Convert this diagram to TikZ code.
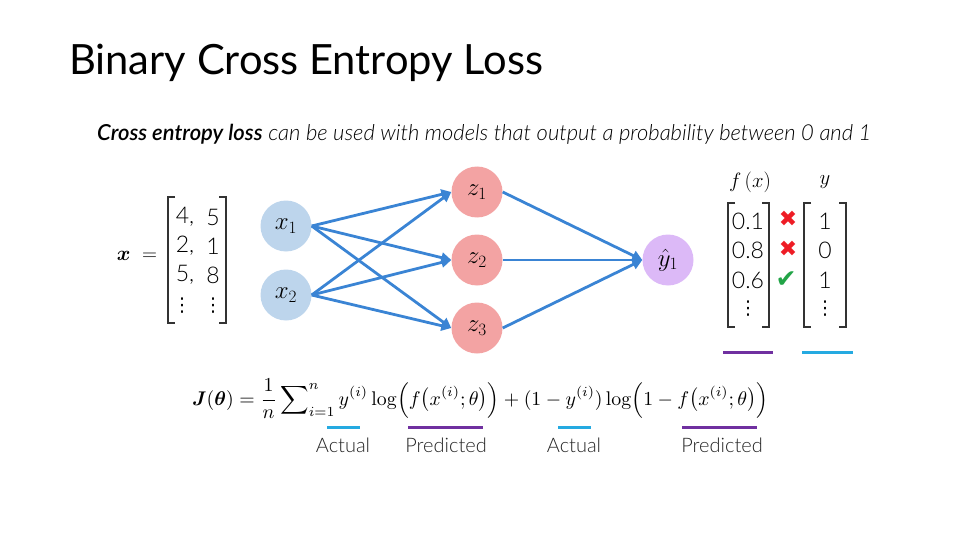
\documentclass[tikz,border=0pt]{standalone}
\usepackage[no-math]{fontspec}
\usepackage{amsmath}
\usepackage{bm}
\usetikzlibrary{arrows.meta}
\setmainfont{Lato}
\IfFontExistsTF{Lato Light}{\newfontfamily\lightfont{Lato Light}}{\newfontfamily\lightfont{Lato}}
\IfFontExistsTF{Lato Semibold}{\newfontfamily\semifont{Lato Semibold}}{\newcommand\semifont{\bfseries}}
\newfontfamily\symfont{DejaVu Sans}
\definecolor{inblue}{HTML}{BDD5EC}
\definecolor{hidred}{HTML}{F3A3A3}
\definecolor{outpurp}{HTML}{DCB9F7}
\definecolor{arrblue}{HTML}{3A84D4}
\definecolor{lineblue}{HTML}{25AAE1}
\definecolor{linepurp}{HTML}{7030A0}
\definecolor{xred}{HTML}{EE1C25}
\definecolor{okgreen}{HTML}{22A447}
\tikzset{
  neuron/.style={circle, minimum size=51pt, inner sep=0pt, font=\fontsize{25}{30}\selectfont},
  inneuron/.style={neuron, fill=inblue},
  hidneuron/.style={neuron, fill=hidred},
  outneuron/.style={neuron, fill=outpurp},
  conn/.style={draw=arrblue, line width=2.8pt, -{Triangle[length=10pt,width=10pt]}},
  num/.style={inner sep=0pt, font=\lightfont\fontsize{23}{26}\selectfont},
  vdot/.style={inner sep=0pt, font=\symfont\fontsize{19}{20}\selectfont},
  bracket/.style={draw=black!80, line width=1.1pt},
  uline/.style={line width=3pt},
  lbl/.style={inner sep=0pt, anchor=base, font=\lightfont\fontsize{20}{24}\selectfont, text=black!85},
  symmark/.style={inner sep=0pt, font=\symfont\fontsize{22}{24}\selectfont}
}
\begin{document}
\begin{tikzpicture}[x=1pt,y=-1pt]
\useasboundingbox (0,0) rectangle (960,540);
% title
\node[inner sep=0pt, anchor=base west] (title) at (69,75)
  {\resizebox{474pt}{!}{Binary Cross Entropy Loss}};
\node[inner sep=0pt, anchor=base west] (sub) at (97,141)
  {\resizebox{774pt}{!}{{\semifont\itshape Cross entropy loss} {\lightfont\itshape can be used with models that output a probability between 0 and 1}}};
% input matrix
\node[inner sep=0pt, font=\fontsize{21}{24}\selectfont] (xeq) at (137,256) {$\bm{x}\;=$};
\draw[bracket] (175,197) -- (168,197) -- (168,323) -- (175,323);
\draw[bracket] (219,197) -- (226,197) -- (226,323) -- (219,323);
\node[num] (a11) at (185,217) {4,};
\node[num] (a12) at (213,217) {5};
\node[num] (a21) at (185,246) {2,};
\node[num] (a22) at (213,246) {1};
\node[num] (a31) at (185,275) {5,};
\node[num] (a32) at (213,275) {8};
\node[vdot] (a41) at (182,306) {⋮};
\node[vdot] (a42) at (213,306) {⋮};
% network
\node[inneuron] (x1) at (286,226) {$x_1$};
\node[inneuron] (x2) at (286,295) {$x_2$};
\node[hidneuron] (z1) at (477,192) {$z_1$};
\node[hidneuron] (z2) at (477,260) {$z_2$};
\node[hidneuron] (z3) at (477,328) {$z_3$};
\node[outneuron] (y1) at (668,260) {$\hat{y}_1$};
\foreach \s in {x1,x2}{
  \foreach \t in {z1,z2,z3}{
    \draw[conn] (\s.east) -- (\t.west);
  }
}
\foreach \s in {z1,z2,z3}{
  \draw[conn] (\s.east) -- (y1.west);
}
% prediction / label vectors
\node[inner sep=0pt, font=\fontsize{20}{22}\selectfont] (fx) at (750,182) {$f\,(x)$};
\node[inner sep=0pt, font=\fontsize{20}{22}\selectfont] (ylab) at (825,182) {$y$};
\draw[bracket] (735,203) -- (728,203) -- (728,327) -- (735,327);
\draw[bracket] (762,203) -- (769,203) -- (769,327) -- (762,327);
\draw[bracket] (811,203) -- (804,203) -- (804,327) -- (811,327);
\draw[bracket] (839,203) -- (846,203) -- (846,327) -- (839,327);
\node[num] (p1) at (748,221) {0.1};
\node[num] (p2) at (748,250) {0.8};
\node[num] (p3) at (748,280) {0.6};
\node[vdot] (p4) at (748,309) {⋮};
\node[num] (t1) at (825,221) {1};
\node[num] (t2) at (825,250) {0};
\node[num] (t3) at (825,280) {1};
\node[vdot] (t4) at (825,309) {⋮};
\node[symmark, text=xred] (c1) at (788,219) {✖};
\node[symmark, text=xred] (c2) at (788,249) {✖};
\node[symmark, text=okgreen, font=\symfont\fontsize{25}{26}\selectfont] (c3) at (786,280) {✔};
\draw[uline, linepurp] (723,352) -- (773,352);
\draw[uline, lineblue] (802,352) -- (853,352);
% equation
\node[inner sep=0pt, anchor=base west] (eq) at (192,405)
  {\resizebox{576pt}{!}{$\displaystyle \bm{J}(\bm{\theta}) = \frac{1}{n}\sum\nolimits_{i=1}^{n} y^{(i)}\log\Bigl(f\bigl(x^{(i)};\theta\bigr)\Bigr) + (1-y^{(i)})\log\Bigl(1-f\bigl(x^{(i)};\theta\bigr)\Bigr)$}};
\draw[uline, lineblue] (327,427) -- (360,427);
\draw[uline, linepurp] (408,427) -- (483,427);
\draw[uline, lineblue] (558,427) -- (591,427);
\draw[uline, linepurp] (682,427) -- (757,427);
\node[lbl] (l1) at (343,452) {Actual};
\node[lbl] (l2) at (446,452) {Predicted};
\node[lbl] (l3) at (574,452) {Actual};
\node[lbl] (l4) at (722,452) {Predicted};
\end{tikzpicture}
\end{document}
